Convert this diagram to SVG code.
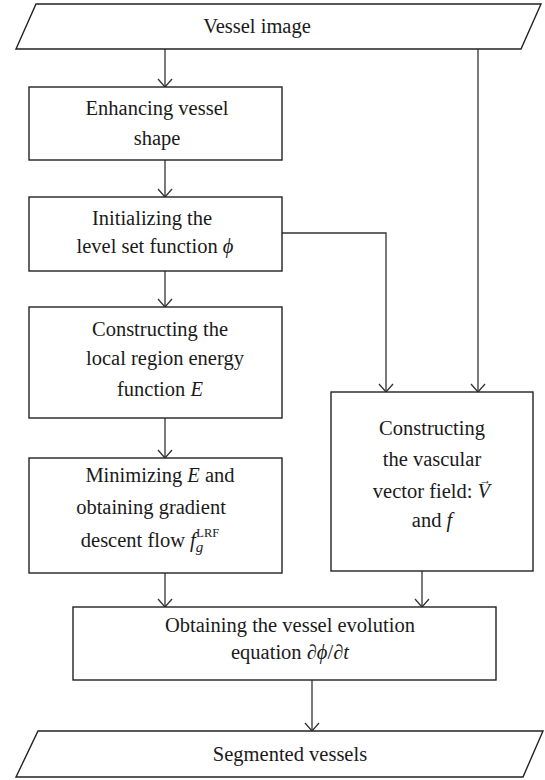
<svg xmlns="http://www.w3.org/2000/svg" width="545" height="780" viewBox="0 0 545 780">
<style>
.box{fill:#fff;stroke:#222;stroke-width:1.4}
.lbl{font-family:"Liberation Serif","DejaVu Serif",serif;font-size:20.5px;fill:#1a1a1a;text-anchor:middle}
.it{font-style:italic}
.con{fill:none;stroke:#333;stroke-width:1.3}
</style>
<defs>
<marker id="arr" markerUnits="userSpaceOnUse" markerWidth="20" markerHeight="20" viewBox="-10 -10 20 20" refX="0" refY="0" orient="auto">
<path d="M-8,-7 L0,0 L-8,7" fill="none" stroke="#333" stroke-width="1.3"/>
</marker>
</defs>
<rect width="545" height="780" fill="#fff"/>
<g id="connectors">
<line class="con" x1="165" y1="49" x2="165" y2="87" marker-end="url(#arr)"/>
<line class="con" x1="165" y1="160" x2="165" y2="197" marker-end="url(#arr)"/>
<line class="con" x1="165" y1="271" x2="165" y2="307" marker-end="url(#arr)"/>
<line class="con" x1="165" y1="418" x2="165" y2="458" marker-end="url(#arr)"/>
<line class="con" x1="165" y1="573" x2="165" y2="607" marker-end="url(#arr)"/>
<line class="con" x1="478" y1="49" x2="478" y2="392" marker-end="url(#arr)"/>
<path class="con" d="M282,233 H386 V392" marker-end="url(#arr)"/>
<line class="con" x1="422" y1="571" x2="422" y2="607" marker-end="url(#arr)"/>
<line class="con" x1="312" y1="680" x2="312" y2="731" marker-end="url(#arr)"/>
</g>
<g id="vessel_image">
<polygon class="box" points="36,4 541,4 521,49 16,49"/>
<text class="lbl" x="257" y="33">Vessel image</text>
</g>
<g id="enhancing">
<rect class="box" x="29" y="87" width="253" height="73"/>
<text class="lbl" x="157" y="115">Enhancing vessel</text>
<text class="lbl" x="157" y="145">shape</text>
</g>
<g id="initializing">
<rect class="box" x="29" y="197" width="253" height="74"/>
<text class="lbl" x="152" y="225">Initializing the</text>
<text class="lbl" x="155" y="253">level set function <tspan class="it">ϕ</tspan></text>
</g>
<g id="constructing_energy">
<rect class="box" x="29" y="307" width="253" height="111"/>
<text class="lbl" x="160" y="336">Constructing the</text>
<text class="lbl" x="165" y="365">local region energy</text>
<text class="lbl" x="160" y="396">function <tspan class="it">E</tspan></text>
</g>
<g id="minimizing">
<rect class="box" x="29" y="458" width="253" height="115"/>
<text class="lbl" x="160" y="482">Minimizing <tspan class="it">E</tspan> and</text>
<text class="lbl" x="151" y="514">obtaining gradient</text>
<text class="lbl" x="150" y="547">descent flow <tspan class="it">f</tspan><tspan class="it" font-size="15" dy="5">g</tspan><tspan font-size="12.5" dx="-7" dy="-15">LRF</tspan></text>
</g>
<g id="vector_field">
<rect class="box" x="331" y="392" width="202" height="179"/>
<text class="lbl" x="432" y="435">Constructing</text>
<text class="lbl" x="432" y="466">the vascular</text>
<text class="lbl" x="432" y="498">vector field: <tspan class="it">V</tspan><tspan font-size="12" dx="-11" dy="-14">→</tspan></text>
<text class="lbl" x="432" y="527">and <tspan class="it">f</tspan></text>
</g>
<g id="evolution">
<rect class="box" x="73" y="607" width="423" height="73"/>
<text class="lbl" x="290" y="632">Obtaining the vessel evolution</text>
<text class="lbl" x="290" y="659">equation ∂<tspan class="it">ϕ</tspan>/∂<tspan class="it">t</tspan></text>
</g>
<g id="segmented">
<polygon class="box" points="38,731 543,731 523,777 16,777"/>
<text class="lbl" x="290" y="761">Segmented vessels</text>
</g>
</svg>
